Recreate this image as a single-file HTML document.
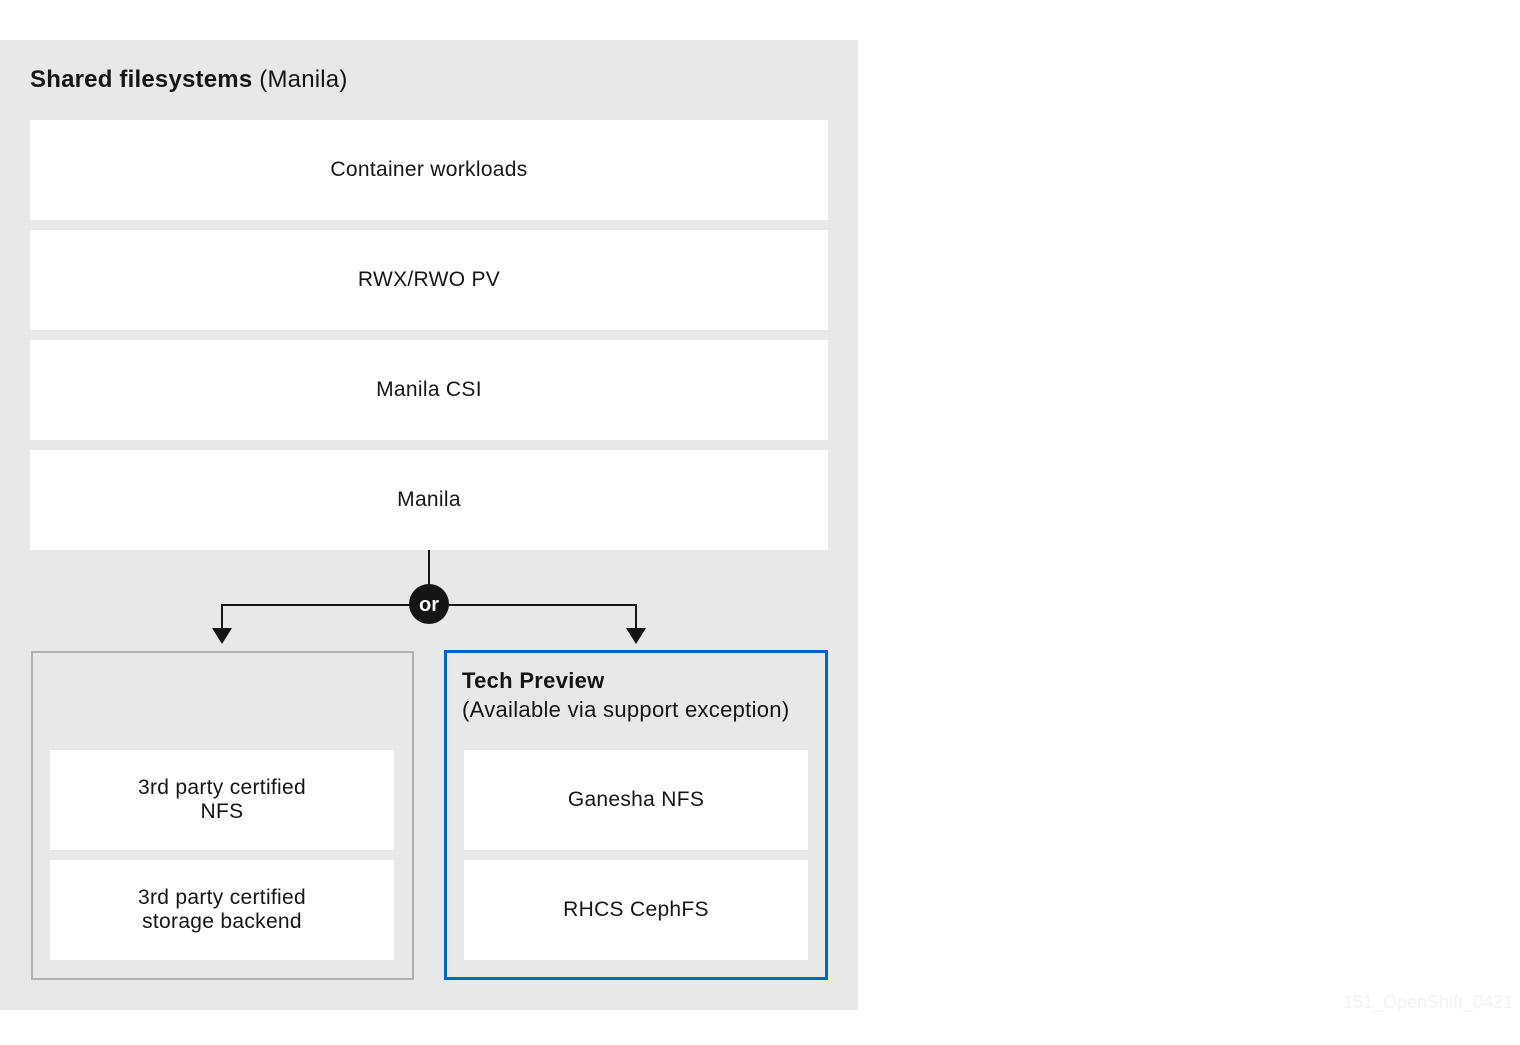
<!DOCTYPE html>
<html><head><style>
body{margin:0;width:1520px;height:1045px;background:#fff;position:relative;font-family:"Liberation Sans",sans-serif;overflow:hidden}
.a{position:absolute}
.box{position:absolute;background:#fff;display:flex;align-items:center;justify-content:center;text-align:center;font-size:21px;color:#151515;line-height:24px;letter-spacing:0.3px}
</style></head><body>
<div class="a" style="left:0;top:40px;width:858px;height:970px;background:#e8e8e8"></div>
<div class="a" style="left:30px;top:66px;font-size:24px;color:#151515;letter-spacing:0.2px"><b>Shared filesystems</b> (Manila)</div>
<div class="box" style="left:30px;top:120px;width:798px;height:100px">Container workloads</div>
<div class="box" style="left:30px;top:230px;width:798px;height:100px">RWX/RWO PV</div>
<div class="box" style="left:30px;top:340px;width:798px;height:100px">Manila CSI</div>
<div class="box" style="left:30px;top:450px;width:798px;height:100px">Manila</div>
<svg class="a" style="left:0;top:0" width="858" height="1010">
<path d="M429 550V604M222 630V605H636V630" stroke="#151515" stroke-width="2" fill="none"/>
<path d="M212 628H232L222 644Z M626 628H646L636 644Z" fill="#151515"/>
<circle cx="429" cy="604" r="20" fill="#151515"/>
<text x="429" y="611" text-anchor="middle" fill="#fff" font-family="Liberation Sans" font-weight="bold" font-size="20">or</text>
</svg>
<div class="a" style="left:31px;top:651px;width:379px;height:325px;border:2px solid #b0b0b0"></div>
<div class="box" style="left:50px;top:750px;width:344px;height:100px">3rd party certified<br>NFS</div>
<div class="box" style="left:50px;top:860px;width:344px;height:100px">3rd party certified<br>storage backend</div>
<div class="a" style="left:444px;top:650px;width:378px;height:324px;border:3px solid #0066cc"></div>
<div class="a" style="left:462px;top:666px;font-size:22px;line-height:29px;color:#151515;letter-spacing:0.3px"><b>Tech Preview</b><br>(Available via support exception)</div>
<div class="box" style="left:464px;top:750px;width:344px;height:100px">Ganesha NFS</div>
<div class="box" style="left:464px;top:860px;width:344px;height:100px">RHCS CephFS</div>
<div class="a" style="left:1343px;top:992px;font-size:18px;color:#f2f2f2">151_OpenShift_0421</div>
</body></html>
